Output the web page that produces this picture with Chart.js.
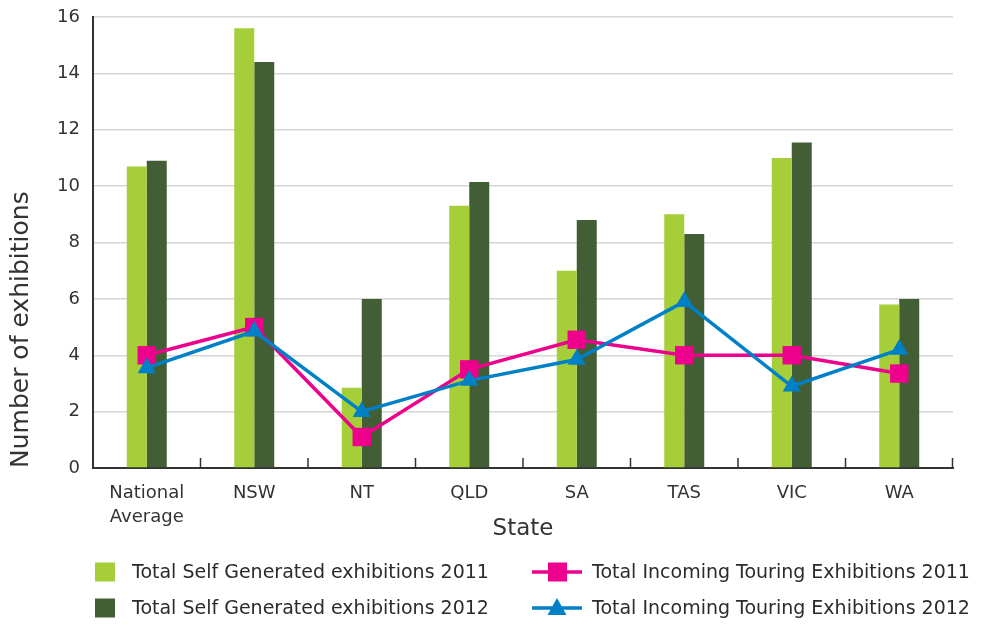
<!DOCTYPE html>
<html>
<head>
<meta charset="utf-8">
<script src="https://cdn.jsdelivr.net/npm/chart.js@4"></script>
<style>
  html, body { margin: 0; padding: 0; background: #fff; }
  #wrap { width: 986px; height: 625px; }
</style>
</head>
<body>
<div id="wrap"><canvas id="exhibitionsChart"></canvas></div>
<script>
// states along the x axis
const stateLabels = [["National", "Average"], "NSW", "NT", "QLD", "SA", "TAS", "VIC", "WA"];
// bar series
const selfGenerated2011 = [10.7, 15.6, 2.85, 9.3, 7.0, 9.0, 11.0, 5.8];
const selfGenerated2012 = [10.9, 14.4, 6.0, 10.15, 8.8, 8.3, 11.55, 6.0];
// line series
const incomingTouring2011 = [4.0, 5.0, 1.1, 3.5, 4.55, 4.0, 4.0, 3.35];
const incomingTouring2012 = [3.55, 4.85, 2.0, 3.1, 3.85, 5.9, 2.9, 4.2];

const lightGreen = "#a6ce39";
const darkGreen = "#425e35";
const pink = "#ec008c";
const blue = "#0080c6";
const textColor = "#333333";
const fontFamily = "'DejaVu Sans', sans-serif";

// small upward tick marks between the categories
const categoryTicks = {
  id: "categoryTicks",
  afterDatasetsDraw(chart) {
    const { ctx, scales: { x }, chartArea } = chart;
    ctx.save();
    ctx.strokeStyle = textColor;
    ctx.lineWidth = 1.5;
    for (let i = 0; i < stateLabels.length; i++) {
      const xPos = i < stateLabels.length - 1
        ? (x.getPixelForValue(i) + x.getPixelForValue(i + 1)) / 2
        : chartArea.right - 0.5;
      ctx.beginPath();
      ctx.moveTo(xPos, chartArea.bottom);
      ctx.lineTo(xPos, chartArea.bottom - 10);
      ctx.stroke();
    }
    ctx.restore();
  },
};

// two-column legend under the chart
const columnLegend = {
  id: "columnLegend",
  afterDraw(chart) {
    const ctx = chart.ctx;
    const ds = chart.data.datasets;
    const rows = [572, 608];
    ctx.save();
    ctx.font = "19px " + fontFamily;
    ctx.textBaseline = "middle";

    // bars, left column
    [ds[0], ds[1]].forEach((d, i) => {
      ctx.fillStyle = d.backgroundColor;
      ctx.fillRect(95, rows[i] - 9.5, 20, 19);
      ctx.fillStyle = "#2b2b2b";
      ctx.fillText(d.label, 132, rows[i] + 1);
    });

    // lines, right column
    [ds[2], ds[3]].forEach((d, i) => {
      const y = rows[i];
      ctx.strokeStyle = d.borderColor;
      ctx.lineWidth = 3.5;
      ctx.beginPath();
      ctx.moveTo(532, y);
      ctx.lineTo(582, y);
      ctx.stroke();
      ctx.fillStyle = d.borderColor;
      if (d.pointStyle === "rect") {
        ctx.fillRect(548, y - 9.5, 19, 19);
      } else {
        ctx.beginPath();
        ctx.moveTo(557, y - 10);
        ctx.lineTo(566.5, y + 7);
        ctx.lineTo(547.5, y + 7);
        ctx.closePath();
        ctx.fill();
      }
      ctx.fillStyle = "#2b2b2b";
      ctx.fillText(d.label, 592, y + 1);
    });
    ctx.restore();
  },
};

new Chart(document.getElementById("exhibitionsChart"), {
  data: {
    labels: stateLabels,
    datasets: [
      {
        type: "bar",
        label: "Total Self Generated exhibitions 2011",
        data: selfGenerated2011,
        backgroundColor: lightGreen,
        categoryPercentage: 0.372,
        barPercentage: 1,
        order: 2,
      },
      {
        type: "bar",
        label: "Total Self Generated exhibitions 2012",
        data: selfGenerated2012,
        backgroundColor: darkGreen,
        categoryPercentage: 0.372,
        barPercentage: 1,
        order: 2,
      },
      {
        type: "line",
        label: "Total Incoming Touring Exhibitions 2011",
        data: incomingTouring2011,
        borderColor: pink,
        backgroundColor: pink,
        borderWidth: 3.5,
        pointStyle: "rect",
        pointRadius: 13,
        pointBorderWidth: 0,
        tension: 0,
        order: 1,
      },
      {
        type: "line",
        label: "Total Incoming Touring Exhibitions 2012",
        data: incomingTouring2012,
        borderColor: blue,
        backgroundColor: blue,
        borderWidth: 3.5,
        pointStyle: "triangle",
        pointRadius: 10.5,
        pointBorderWidth: 0,
        tension: 0,
        order: 0,
      },
    ],
  },
  options: {
    responsive: true,
    maintainAspectRatio: false,
    animation: false,
    layout: {
      autoPadding: false,
      padding: { top: 17, right: 33, left: 0, bottom: 82 },
    },
    scales: {
      x: {
        offset: true,
        grid: { display: false, drawTicks: false },
        border: { display: true, color: textColor, width: 2 },
        ticks: {
          color: textColor,
          padding: 13,
          maxRotation: 0,
          autoSkip: false,
          font: { family: fontFamily, size: 18, lineHeight: 1.35 },
        },
        title: {
          display: true,
          text: "State",
          color: textColor,
          padding: 0,
          font: { family: fontFamily, size: 23 },
        },
        afterFit(scale) {
          scale.height = 75;
        },
      },
      y: {
        min: 0,
        max: 16,
        grid: { color: "#d6d6d6", lineWidth: 1.5, drawTicks: false },
        border: { display: true, color: textColor, width: 2 },
        ticks: {
          stepSize: 2,
          color: textColor,
          padding: 13,
          font: { family: fontFamily, size: 18 },
        },
        title: {
          display: true,
          text: "Number of exhibitions",
          align: "start",
          color: textColor,
          padding: { top: 6 },
          font: { family: fontFamily, size: 25 },
        },
        afterFit(scale) {
          scale.width = 93;
          scale.paddingTop = 0;
          scale.paddingBottom = 0;
        },
      },
    },
    plugins: {
      legend: { display: false },
      tooltip: { enabled: false },
    },
  },
  plugins: [categoryTicks, columnLegend],
});
</script>
</body>
</html>
